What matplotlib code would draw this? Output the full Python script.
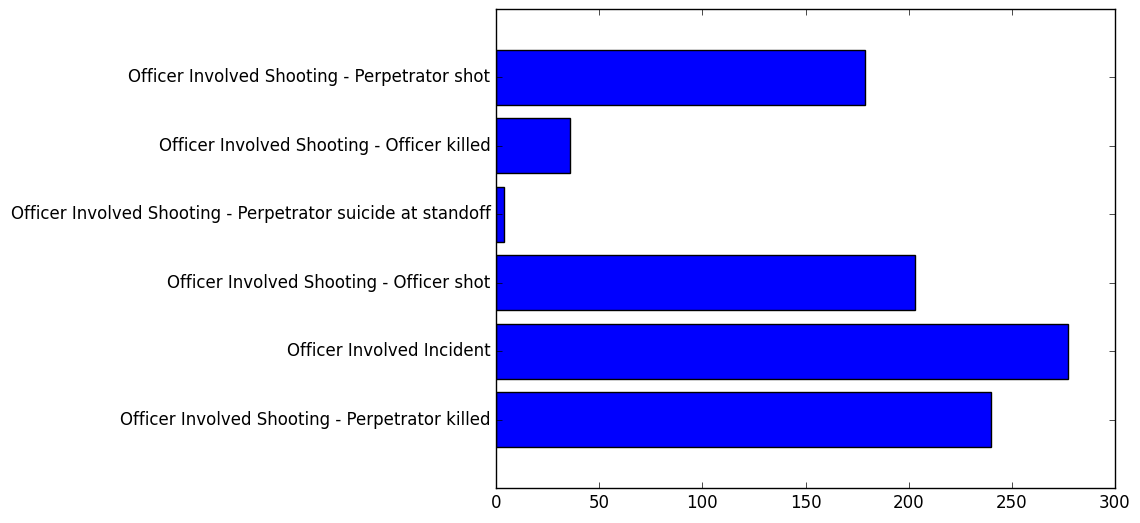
import matplotlib
matplotlib.use("Agg")
import matplotlib.pyplot as plt

categories = [
    "Officer Involved Shooting - Perpetrator killed",
    "Officer Involved Incident",
    "Officer Involved Shooting - Officer shot",
    "Officer Involved Shooting - Perpetrator suicide at standoff",
    "Officer Involved Shooting - Officer killed",
    "Officer Involved Shooting - Perpetrator shot",
]
counts = [240, 277, 203, 4, 36, 179]

plt.style.use("classic")
fig = plt.figure(figsize=(11.4, 5.23), dpi=100)
ax = fig.add_axes([496 / 1140, 1 - 488 / 523, (1115 - 496) / 1140, (488 - 9) / 523])
ypos = list(range(len(categories)))
ax.barh(ypos, counts, height=0.8, align="center", color="blue", edgecolor="black")
ax.set_yticks(ypos)
ax.set_yticklabels(categories, fontsize=12)
ax.tick_params(axis="x", labelsize=12)
ax.set_xlim(0, 300)
ax.set_ylim(-1, 6)
fig.savefig("out.png", dpi=100, facecolor="white")
